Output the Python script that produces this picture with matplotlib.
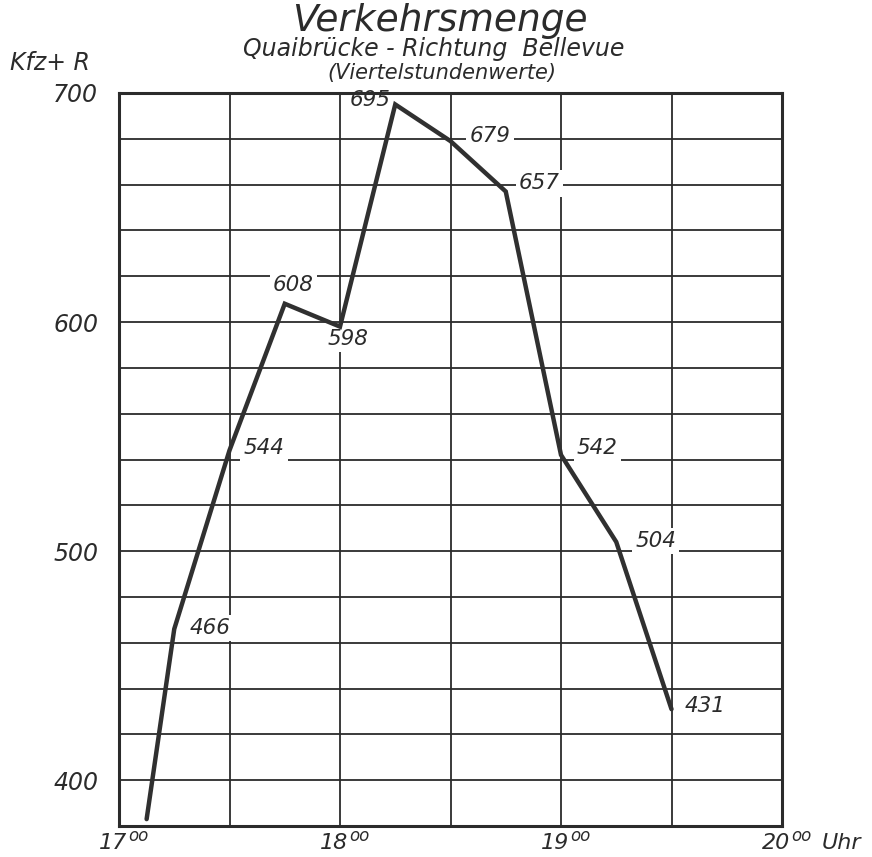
import matplotlib
matplotlib.use("Agg")
import matplotlib.pyplot as plt

# ---- data (minutes after 17:00, vehicles per quarter hour) ----
minutes = [7.5, 15, 30, 45, 60, 75, 90, 105, 120, 135, 150]
values = [383, 466, 544, 608, 598, 695, 679, 657, 542, 504, 431]
point_labels = ["", "466", "544", "608", "598", "695", "679", "657", "542", "504", "431"]
# label offsets in pixels (style only)
label_offsets = [(0, 0), (15, 1), (14, 2), (-12, 19), (-12, -12), (-46, 4), (19, 5),
                 (13, 8), (16, 7), (19, 1), (13, 3)]

hour_ticks = [0, 60, 120, 180]
hour_labels = ["17", "18", "19", "20"]
unit_label = "Uhr"
y_major = [400, 500, 600, 700]
y_ticklabels = ["400", "500", "600", "700"]

ink = "#2b2b2b"
fam = "DejaVu Sans"

fig = plt.figure(figsize=(8.72, 8.57), dpi=100)
L, R, T, B = 119, 782, 93, 826
ax = fig.add_axes([L/872, 1-B/857, (R-L)/872, (B-T)/857])

ax.set_xlim(0, 180)
ax.set_ylim(380, 700)
ax.set_xticks(hour_ticks)
ax.set_xticks(range(0, 181, 30), minor=True)
ax.set_xticklabels([])
ax.set_yticks(y_major)
ax.set_yticks(range(380, 701, 20), minor=True)
ax.set_yticklabels(y_ticklabels, fontsize=17, style="italic", family=fam, color=ink)
ax.tick_params(which="both", length=0)
ax.tick_params(axis="y", pad=15)

# hour labels with raised "oo"
for xh, lab in zip(hour_ticks, hour_labels):
    ax.annotate(lab, (xh, 0), xycoords=("data", "axes fraction"), xytext=(8, -17),
                textcoords="offset pixels", ha="right", va="center", fontsize=16,
                style="italic", family=fam, color=ink, annotation_clip=False)
    ax.annotate("oo", (xh, 0), xycoords=("data", "axes fraction"), xytext=(9, -10),
                textcoords="offset pixels", ha="left", va="center", fontsize=12,
                style="italic", family=fam, color=ink, annotation_clip=False)
ax.annotate(unit_label, (hour_ticks[-1], 0), xycoords=("data", "axes fraction"),
            xytext=(40, -17), textcoords="offset pixels", ha="left", va="center",
            fontsize=16, style="italic", family=fam, color=ink, annotation_clip=False)

ax.grid(which="both", color=ink, linewidth=1.3, zorder=1)
ax.set_axisbelow(True)
for s in ax.spines.values():
    s.set_linewidth(2.2)
    s.set_color(ink)
    s.set_zorder(5)

ax.plot(minutes, values, color="#303030", linewidth=3.2, solid_capstyle="round",
        solid_joinstyle="miter", zorder=4)

for xm, v, t, (dx, dy) in zip(minutes, values, point_labels, label_offsets):
    if not t:
        continue
    ax.annotate(t, (xm, v), xytext=(dx, dy), textcoords="offset pixels",
                ha="left", va="center", fontsize=15.5, style="italic", family=fam,
                color=ink, zorder=3,
                bbox=dict(boxstyle="square,pad=0.15", fc="white", ec="none"))

fig.text(0.505, 0.975, "Verkehrsmenge", ha="center", va="center", fontsize=27,
         style="italic", family=fam, color=ink)
fig.text(0.497, 0.943, "Quaibrücke - Richtung  Bellevue", ha="center", va="center",
         fontsize=17, style="italic", family=fam, color=ink)
fig.text(0.507, 0.915, "(Viertelstundenwerte)", ha="center", va="center",
         fontsize=15, style="italic", family=fam, color=ink)
fig.text(0.012, 0.927, "Kfz+ R", ha="left", va="center", fontsize=17,
         style="italic", family=fam, color=ink)

fig.savefig("out.png", dpi=100, facecolor="white")
